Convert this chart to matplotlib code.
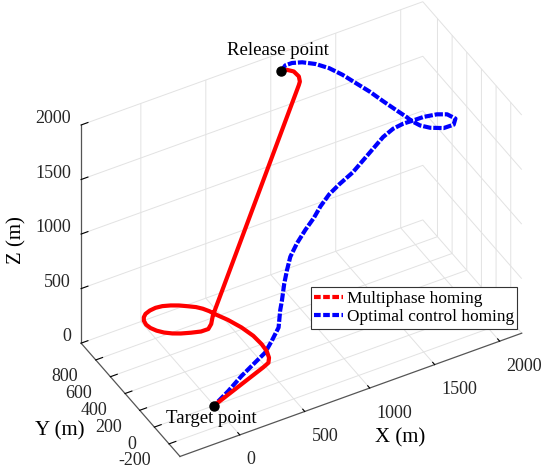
import matplotlib
matplotlib.use('Agg')
import matplotlib.pyplot as plt
from matplotlib.lines import Line2D
from mpl_toolkits.mplot3d import proj3d

plt.rcParams['font.family'] = ['Liberation Serif', 'DejaVu Serif']
plt.rcParams['axes.unicode_minus'] = False

# trajectory of the multiphase homing strategy (m)
red_x = [984, 1030, 1065, 1075, 1062, 1047, 268, 220, 181, 129, 66, 5, -42, -85, -117, -137,
         -144, -135, -116, -87, -43, 6, 56, 110, 161, 209, 255, 288, 316, 333, 386, 432, 465,
         478, 478, 462, 436, 389, 0]
red_y = [832, 831, 802, 750, 713, 700, 493, 430, 400, 407, 433, 463, 495, 534, 578, 626,
         673, 720, 754, 782, 801, 810, 806, 788, 763, 731, 699, 665, 623, 586, 495, 393, 290,
         199, 130, 70, 32, 18, 0]
red_z = [2000, 1995, 1988, 1978, 1965, 1950, 330, 322, 316, 310, 306, 302, 298, 295, 292, 288,
         285, 282, 279, 276, 273, 270, 267, 264, 261, 258, 255, 252, 249, 246, 238, 228, 216,
         204, 194, 186, 180, 170, 0]

# trajectory of the optimal control homing (m)
blue_x = [984, 1046, 1104, 1176, 1257, 1327, 1384, 1432, 1481, 1523, 1567, 1600, 1615, 1649,
          1704, 1789, 1873, 1922, 1903, 1851, 1767, 1684, 1628, 1554, 1466, 1365, 1268, 1171,
          1060, 974, 895, 829, 755, 679, 615, 577, 543, 510, 493, 464, 417, 367, 301, 209, 106, 0]
blue_y = [832, 883, 894, 883, 843, 783, 700, 602, 504, 395, 290, 211, 168, 113, 73, 40, 52,
          115, 195, 242, 276, 290, 307, 312, 294, 254, 220, 186, 172, 158, 134, 109, 93, 73,
          51, 29, 6, -21, -27, -57, -47, -44, -22, -1, -1, 0]
blue_z = [2000, 1990, 1978, 1962, 1942, 1920, 1898, 1876, 1854, 1832, 1810, 1795, 1785, 1772,
          1758, 1744, 1730, 1716, 1702, 1688, 1674, 1662, 1648, 1630, 1605, 1570, 1530, 1490,
          1440, 1395, 1340, 1280, 1215, 1140, 1060, 970, 880, 760, 680, 560, 450, 360, 280,
          180, 85, 0]

release = (984, 832, 2000)
target = (0, 0, 0)

x_ticks = [0, 500, 1000, 1500, 2000]
y_ticks = [-200, 0, 200, 400, 600, 800]
z_ticks = [0, 500, 1000, 1500, 2000]

xlim = (-460, 2170)
ylim = (-350, 1000)
zlim = (0, 2000)

W, H = 541, 474
fig = plt.figure(figsize=(W / 100, H / 100), dpi=100)
S = 474
cx, cy = 295, 235.5
ax = fig.add_axes([cx / W - S / W / 2, 1 - cy / H - S / H / 2, S / W, S / H],
                  projection='3d', proj_type='ortho', computed_zorder=False)
ax.view_init(elev=40, azim=-119.3)
ax.set_box_aspect((387.7, 200, 281.8), zoom=1.075)

ax.set_xlim(*xlim)
ax.set_ylim(*ylim)
ax.set_zlim(*zlim)
ax.set_xticks(x_ticks)
ax.set_yticks(y_ticks)
ax.set_zticks(z_ticks)

for axis in (ax.xaxis, ax.yaxis, ax.zaxis):
    axis.set_pane_color((1, 1, 1, 0))
    axis.pane.set_edgecolor((1, 1, 1, 0))
    axis._axinfo['grid'].update(color='#e2e2e2', linewidth=0.7)
    axis._axinfo['tick'].update(inward_factor=0.0, outward_factor=0.25)
    axis._axinfo['axisline'].update(color='#555555', linewidth=0.9)
    axis.line.set_color('#555555')
    axis.line.set_linewidth(0.9)
    for tick in axis.get_major_ticks():
        tick.label1.set_visible(False)
        tick.label2.set_visible(False)
    axis.label.set_visible(False)

M = ax.get_proj()


def tick_text(x, y, z, s, dx, dy, ha):
    # tick label at the projected 3D point, shifted on screen by (dx, dy) pixels
    px, py, _ = proj3d.proj_transform(x, y, z, M)
    ax.annotate(s, xy=(px, py), xycoords='data', xytext=(dx, dy),
                textcoords='offset pixels', ha=ha, va='center', fontsize=13,
                color='#262626', annotation_clip=False)


for v in x_ticks:
    tick_text(v, ylim[0], zlim[0], str(v), 7, -25, 'left')
for v in y_ticks:
    tick_text(xlim[0], v, zlim[0], str(v), -18, -17, 'right')
for v in z_ticks:
    tick_text(xlim[0], ylim[1], v, str(v), -10, 6.5, 'right')

ax.plot(blue_x, blue_y, blue_z, color='#0000ff', lw=3, dashes=(2, 0.45))
ax.plot(red_x, red_y, red_z, color='#ff0000', lw=3, solid_capstyle='round')
ax.plot(*[[p] for p in release], 'o', color='k', ms=6.5)
ax.plot(*[[p] for p in target], 'o', color='k', ms=6.5)

fig.text(0.514, 0.884, 'Release point', ha='center', va='baseline', fontsize=13.5)
fig.text(0.391, 0.1076, 'Target point', ha='center', va='baseline', fontsize=13.5)

fig.text(0.031, 0.494, 'Z (m)', rotation=90, ha='center', va='center', fontsize=15)
fig.text(0.111, 0.091, 'Y (m)', ha='center', va='center', fontsize=15)
fig.text(0.740, 0.076, 'X (m)', ha='center', va='center', fontsize=15)

handles = [Line2D([], [], color='#ff0000', lw=3, dashes=(1.6, 0.6)),
           Line2D([], [], color='#0000ff', lw=3, dashes=(1.6, 0.6))]
leg = fig.legend(handles, ['Multiphase homing', 'Optimal control homing'],
                 loc='upper left', bbox_to_anchor=(0.574, 0.394), fontsize=12.4,
                 handlelength=1.7, handletextpad=0.2, borderpad=0.2, labelspacing=0.15,
                 borderaxespad=0, fancybox=False, framealpha=1)
leg.get_frame().set_edgecolor('#333333')
leg.get_frame().set_linewidth(0.8)

fig.savefig('out.png', dpi=100)
